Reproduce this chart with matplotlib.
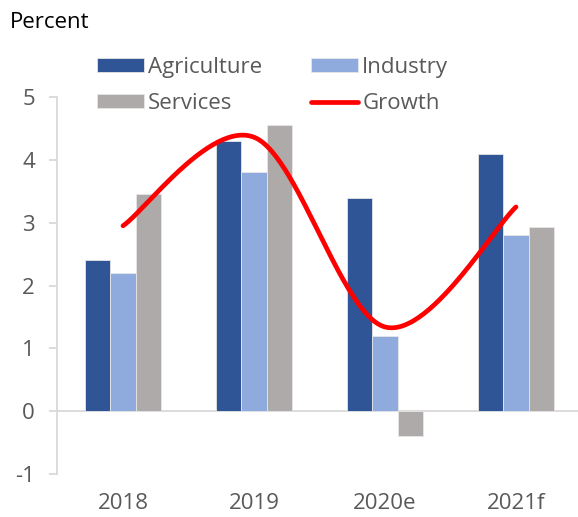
import matplotlib
matplotlib.use("Agg")
import matplotlib.pyplot as plt
import numpy as np

plt.rcParams['font.family'] = ['Open Sans', 'DejaVu Sans']
plt.rcParams['axes.unicode_minus'] = False

# Sector contributions and overall growth, percent
years = ["2018", "2019", "2020e", "2021f"]
agriculture = [2.4, 4.3, 3.4, 4.1]
industry = [2.2, 3.8, 1.2, 2.8]
services = [3.45, 4.55, -0.4, 2.93]
growth = [2.95, 4.36, 1.34, 3.25]

c_agri = '#2F5597'
c_ind = '#8FAADC'
c_serv = '#AEAAAA'
c_axis = '#D9D9D9'
c_text = '#595959'


def smooth_line(xs, ys, n=60):
    # Catmull-Rom style smoothing, as used for smoothed line charts
    pts = np.column_stack([xs, ys]).astype(float)
    padded = np.vstack([pts[0], pts, pts[-1]])
    out = []
    for i in range(len(pts) - 1):
        p0, p1, p2, p3 = padded[i], padded[i + 1], padded[i + 2], padded[i + 3]
        c1 = p1 + (p2 - p0) / 6.0
        c2 = p2 - (p3 - p1) / 6.0
        t = np.linspace(0, 1, n)[:, None]
        seg = ((1 - t) ** 3) * p1 + 3 * ((1 - t) ** 2) * t * c1 + 3 * (1 - t) * t ** 2 * c2 + t ** 3 * p2
        out.append(seg if i == 0 else seg[1:])
    out = np.vstack(out)
    return out[:, 0], out[:, 1]


fig = plt.figure(figsize=(5.78, 5.17), dpi=100)
ax = fig.add_axes([57 / 578, 1 - 474 / 517, 1 - 57 / 578, (474 - 97) / 517])

x = np.arange(len(years))
w = 0.192
bar_kw = dict(width=w, edgecolor='#E6E6E6', linewidth=0.6, zorder=2)
b1 = ax.bar(x - w, agriculture, color=c_agri, label='Agriculture', **bar_kw)
b2 = ax.bar(x, industry, color=c_ind, label='Industry', **bar_kw)
b3 = ax.bar(x + w, services, color=c_serv, label='Services', **bar_kw)

sx, sy = smooth_line(x, growth)
ln, = ax.plot(sx, sy, color='#FF0000', lw=3.4, solid_capstyle='round', zorder=4, label='Growth')

ax.axhline(0, color=c_axis, lw=1.3, zorder=1)

ax.set_xlim(-66 / 131, (578 - 123) / 131)
ax.set_ylim(-1, 5)
ax.set_yticks(range(-1, 6))
ax.set_xticks(x)
ax.set_xticklabels(years)

for side in ['top', 'right', 'bottom']:
    ax.spines[side].set_visible(False)
ax.spines['left'].set_color(c_axis)
ax.spines['left'].set_linewidth(1.3)
ax.tick_params(axis='y', colors=c_axis, labelcolor=c_text, labelsize=16,
               length=6, width=1.3, pad=10)
ax.tick_params(axis='x', length=0, labelcolor=c_text, labelsize=16, pad=14)

fig.text(10 / 578, 1 - 23 / 517, "Percent", fontsize=16, color='#000000', va='center', ha='left')

leg = fig.legend([b1, b3, b2, ln], ['Agriculture', 'Services', 'Industry', 'Growth'],
                 ncol=2, loc='upper left', bbox_to_anchor=(97 / 578, 1 - 57 / 517),
                 frameon=False, fontsize=16, handlelength=2.1, handleheight=0.6,
                 handletextpad=0.2, columnspacing=2.2, labelspacing=0.68,
                 borderaxespad=0, borderpad=0)
for t in leg.get_texts():
    t.set_color(c_text)

fig.savefig("out.png", dpi=100)
